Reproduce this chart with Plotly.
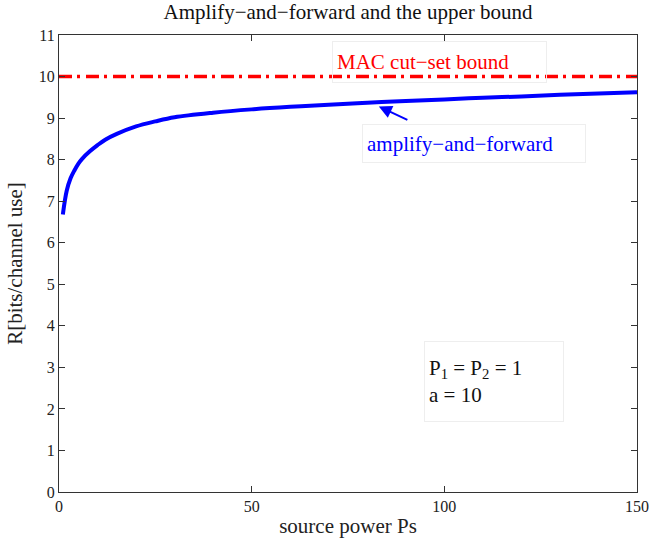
import plotly.graph_objects as go

# Data
ps = [1, 2, 3, 4, 5, 6, 8, 10, 12, 15, 20, 25, 30, 40, 50, 60, 70, 80, 90,
      100, 110, 120, 130, 140, 150]
rate_af = [6.68, 7.25, 7.55, 7.74, 7.90, 8.02, 8.20, 8.35, 8.48, 8.62, 8.80,
           8.92, 9.02, 9.13, 9.21, 9.27, 9.32, 9.37, 9.41, 9.45, 9.49, 9.52,
           9.56, 9.59, 9.62]
bound_x = [0, 150]
bound_y = [10, 10]
x_ticks = [0, 50, 100, 150]
y_ticks = list(range(0, 12))

FONT = "Liberation Serif, Times New Roman, serif"

fig = go.Figure()
fig.add_trace(go.Scatter(x=bound_x, y=bound_y, mode="lines",
                         line=dict(color="#ff0000", width=3.5,
                                   dash="13px,5px,3px,6px"),
                         showlegend=False, hoverinfo="skip"))
fig.add_trace(go.Scatter(x=ps, y=rate_af, mode="lines",
                         line=dict(color="#0000ff", width=4, shape="spline"),
                         showlegend=False, hoverinfo="skip"))

axis_common = dict(showline=True, linecolor="#333333", linewidth=1.2,
                   mirror="ticks", ticks="inside", ticklen=6,
                   tickcolor="#333333", showgrid=False, zeroline=False,
                   automargin=False, ticklabeloverflow="allow",
                   tickfont=dict(family=FONT, size=16, color="#222222"))

fig.update_xaxes(range=[0, 150], tickvals=x_ticks,
                 title=dict(text="source power Ps", standoff=4,
                            font=dict(family=FONT, size=21, color="#222222")),
                 **axis_common)
fig.update_yaxes(range=[0, 11], tickvals=y_ticks,
                 title=dict(text="R[bits/channel use]", standoff=10,
                            font=dict(family=FONT, size=21, color="#222222")),
                 **axis_common)

annos = [
    dict(x=98.75, y=10.34, text="MAC cut\u2212set bound", showarrow=False,
         font=dict(family=FONT, size=21, color="#ff0000"), align="left",
         width=205, height=32, borderpad=4, bordercolor="#eeeeee",
         borderwidth=1, xanchor="center", yanchor="middle"),
    dict(x=107.7, y=8.377, text="amplify\u2212and\u2212forward", showarrow=False,
         font=dict(family=FONT, size=21, color="#0000ff"), align="left",
         width=214, height=29, borderpad=4, bordercolor="#eeeeee",
         borderwidth=1, xanchor="center", yanchor="middle"),
    dict(x=112.9, y=2.656,
         text="P<sub>1</sub> = P<sub>2</sub> = 1<br>a = 10", showarrow=False,
         font=dict(family=FONT, size=21, color="#111111"), align="left",
         width=130, height=71, borderpad=4, bordercolor="#eeeeee",
         borderwidth=1, xanchor="center", yanchor="middle"),
    dict(x=83.0, y=9.28, ax=90.8, ay=8.94, axref="x", ayref="y",
         xref="x", yref="y", text="", showarrow=True, arrowhead=2,
         arrowsize=1.3, arrowwidth=2, arrowcolor="#0000ff"),
]

fig.update_layout(
    width=649, height=541,
    margin=dict(l=59, r=12, t=35, b=49),
    paper_bgcolor="white", plot_bgcolor="white",
    title=dict(text="Amplify\u2212and\u2212forward and the upper bound",
               x=0.5, xref="paper", xanchor="center", y=0.978, yanchor="middle",
               font=dict(family=FONT, size=21, color="#111111")),
    annotations=annos,
    showlegend=False,
)

fig.write_html("out.html")
